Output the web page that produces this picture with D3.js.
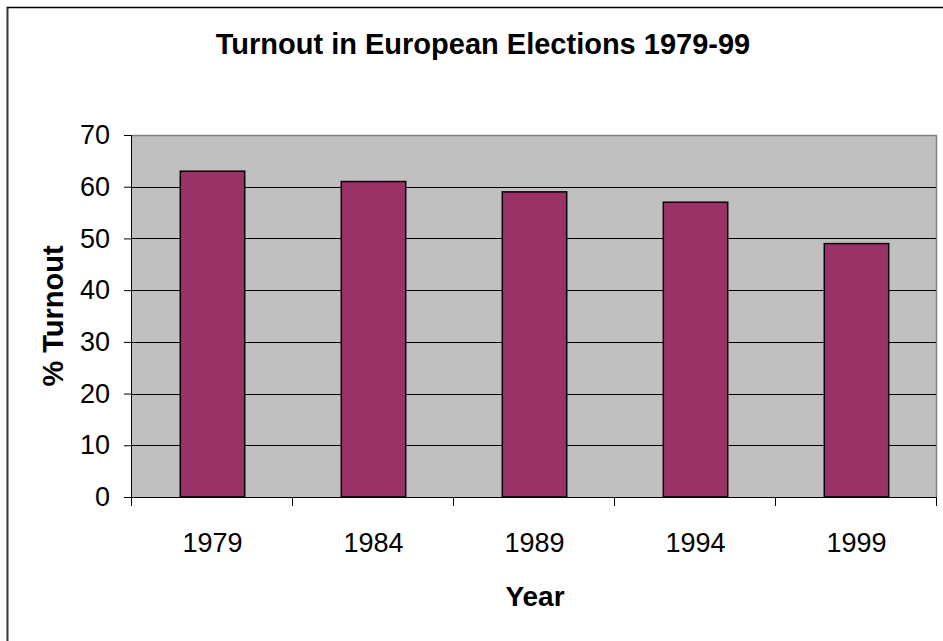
<!DOCTYPE html>
<html>
<head>
<meta charset="utf-8">
<script src="https://cdn.jsdelivr.net/npm/d3@7"></script>
<style>
  html, body { margin: 0; padding: 0; background: #fff; }
  svg { display: block; }
  text { font-family: "Liberation Sans", Arial, sans-serif; fill: #000; }
</style>
</head>
<body>
<svg id="chart" width="943" height="641"></svg>
<script>
const years = ["1979", "1984", "1989", "1994", "1999"];
const turnout = [63, 61, 59, 57, 49];
const yTicks = [0, 10, 20, 30, 40, 50, 60, 70];
const titleText = "Turnout in European Elections 1979-99";
const xTitle = "Year";
const yTitle = "% Turnout";

const svg = d3.select("#chart");
const W = 943, H = 641;
const plot = { left: 132, top: 135, right: 937, bottom: 497 };

// outer chart border (left and top visible)
svg.append("line").attr("x1", 7.5).attr("x2", 7.5).attr("y1", 7).attr("y2", H)
  .attr("stroke", "#333").attr("stroke-width", 2);
svg.append("line").attr("x1", 7).attr("x2", W).attr("y1", 7.5).attr("y2", 7.5)
  .attr("stroke", "#000").attr("stroke-width", 1.5);

const x = d3.scaleBand().domain(years).range([plot.left, plot.right]).paddingInner(0.6).paddingOuter(0.3);
const xBound = d3.scaleLinear().domain([0, years.length]).range([plot.left, plot.right]);
const y = d3.scaleLinear().domain([0, 70]).range([plot.bottom, plot.top]);

// plot background
svg.append("rect").attr("x", plot.left).attr("y", plot.top)
  .attr("width", plot.right - plot.left).attr("height", plot.bottom - plot.top)
  .attr("fill", "#c0c0c0");
// plot border top/right grey
svg.append("path")
  .attr("d", `M${plot.left},${plot.top + 0.5}H${plot.right - 0.5}V${plot.bottom}`)
  .attr("fill", "none").attr("stroke", "#808080").attr("stroke-width", 1.5);

// gridlines
svg.append("g").selectAll("line").data(yTicks.filter(t => t > 0 && t < 70)).join("line")
  .attr("x1", plot.left).attr("x2", plot.right - 1)
  .attr("y1", d => Math.round(y(d)) + 0.5).attr("y2", d => Math.round(y(d)) + 0.5)
  .attr("stroke", "#000").attr("stroke-width", 1);

// bars
svg.append("g").selectAll("rect").data(years).join("rect")
  .attr("x", d => x(d))
  .attr("y", (d, i) => y(turnout[i]))
  .attr("width", x.bandwidth())
  .attr("height", (d, i) => y(0) - y(turnout[i]))
  .attr("fill", "#993366")
  .attr("stroke", "#000").attr("stroke-width", 1.5);

// y axis
const yAxis = d3.axisLeft(y).tickValues(yTicks).tickSize(8).tickPadding(14);
const gy = svg.append("g").attr("transform", `translate(${plot.left},0)`).call(yAxis);
gy.select(".domain").attr("stroke", "#000").attr("d", `M-0.5,${plot.top}V${plot.bottom}`);
gy.selectAll(".tick line").attr("stroke", "#000");
gy.selectAll(".tick text").attr("font-size", 27).attr("font-family", "Liberation Sans, Arial, sans-serif")
  .attr("fill", "#000");

// x axis
const gx = svg.append("g").attr("transform", `translate(0,${plot.bottom})`);
gx.append("line").attr("x1", plot.left - 1).attr("x2", plot.right).attr("y1", 0.5).attr("y2", 0.5)
  .attr("stroke", "#000");
gx.selectAll("line.tk").data(d3.range(years.length + 1)).join("line").attr("class", "tk")
  .attr("x1", d => Math.round(xBound(d)) - 0.5).attr("x2", d => Math.round(xBound(d)) - 0.5)
  .attr("y1", 0).attr("y2", 9).attr("stroke", "#000");
gx.selectAll("text").data(years).join("text")
  .attr("x", d => x(d) + x.bandwidth() / 2)
  .attr("y", 55)
  .attr("text-anchor", "middle")
  .attr("font-size", 27)
  .text(d => d);

// titles
svg.append("text").attr("x", 483).attr("y", 54).attr("text-anchor", "middle")
  .attr("font-size", 29).attr("font-weight", "bold").text(titleText);
svg.append("text").attr("x", 535).attr("y", 606).attr("text-anchor", "middle")
  .attr("font-size", 28).attr("font-weight", "bold").text(xTitle);
svg.append("text").attr("transform", "translate(63,316) rotate(-90)").attr("text-anchor", "middle")
  .attr("font-size", 29).attr("font-weight", "bold").text(yTitle);
</script>
</body>
</html>
